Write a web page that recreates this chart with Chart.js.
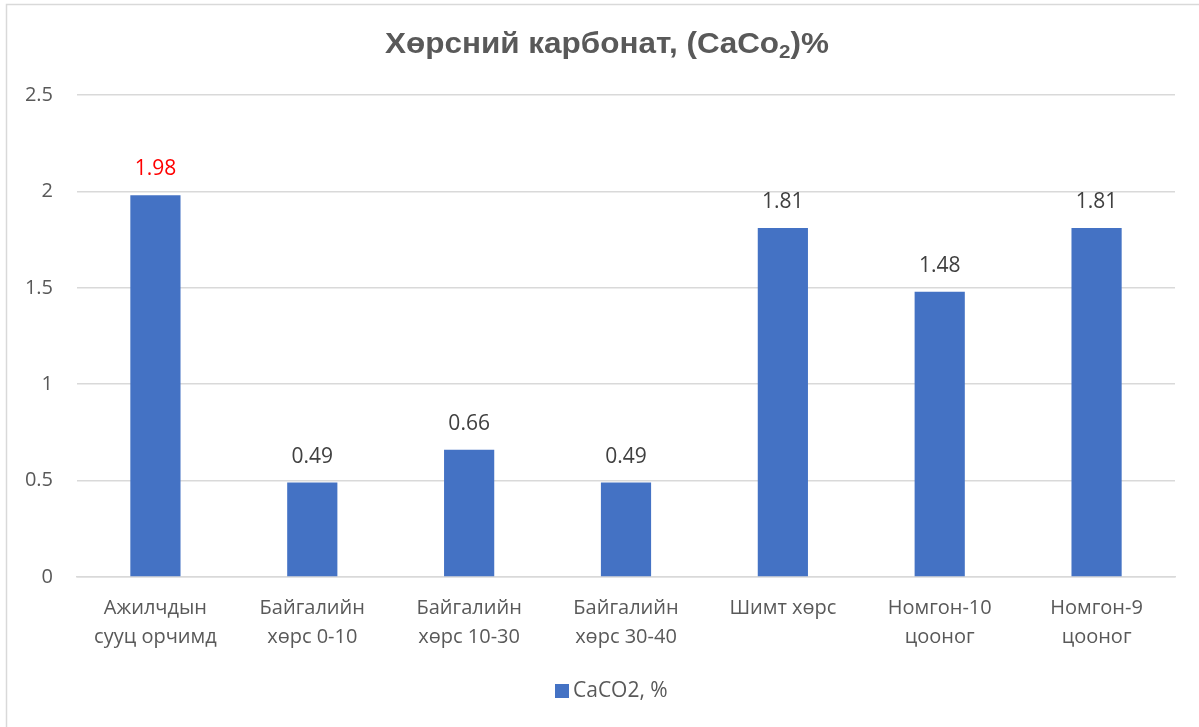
<!DOCTYPE html>
<html>
<head>
<meta charset="utf-8">
<script src="https://cdn.jsdelivr.net/npm/chart.js@4"></script>
<style>
  html, body { margin: 0; padding: 0; background: #fff; }
  #wrap { position: relative; width: 1199px; height: 727px; }
</style>
</head>
<body>
<div id="wrap"><canvas id="grafico"></canvas></div>
<script>
const categories = [
  ["Ажилчдын", "сууц орчимд"],
  ["Байгалийн", "хөрс 0-10"],
  ["Байгалийн", "хөрс 10-30"],
  ["Байгалийн", "хөрс 30-40"],
  "Шимт хөрс",
  ["Номгон-10", "цооног"],
  ["Номгон-9", "цооног"]
];
const caco2Values = [1.98, 0.49, 0.66, 0.49, 1.81, 1.48, 1.81];
const yTicks = [0, 0.5, 1, 1.5, 2, 2.5];
const labelColors = ["#FF0000", "#404040", "#404040", "#404040", "#404040", "#404040", "#404040"];

const textFont = "'Open Sans', 'Noto Sans', sans-serif";
const titleFont = "'Liberation Sans', Arial, sans-serif";

// marco gris del gráfico
const borderPlugin = {
  id: "marco",
  beforeDraw(chart) {
    const ctx = chart.ctx;
    ctx.save();
    ctx.fillStyle = "#fff";
    ctx.fillRect(0, 0, chart.width, chart.height);
    ctx.strokeStyle = "#d9d9d9";
    ctx.lineWidth = 1.5;
    ctx.beginPath();
    ctx.moveTo(6.5, chart.height + 2);
    ctx.lineTo(6.5, 4.5);
    ctx.lineTo(chart.width + 2, 4.5);
    ctx.stroke();
    ctx.restore();
  }
};

// título con subíndice, un poco ensanchado como en el original
const titlePlugin = {
  id: "titulo",
  afterDraw(chart) {
    const ctx = chart.ctx;
    const parts = [
      { t: "Хөрсний карбонат, (CaCo", size: 29, dy: 0 },
      { t: "2", size: 19, dy: 5 },
      { t: ")%", size: 29, dy: 0 }
    ];
    ctx.save();
    ctx.fillStyle = "#595959";
    ctx.textBaseline = "alphabetic";
    ctx.textAlign = "left";
    let total = 0;
    parts.forEach(p => {
      ctx.font = "bold " + p.size + "px " + titleFont;
      p.w = ctx.measureText(p.t).width;
      total += p.w;
    });
    const sx = 444 / total;
    ctx.translate(385, 53);
    ctx.scale(sx, 1);
    let x = 0;
    parts.forEach(p => {
      ctx.font = "bold " + p.size + "px " + titleFont;
      ctx.fillText(p.t, x, p.dy);
      x += p.w;
    });
    ctx.restore();
  }
};

// leyenda abajo
const legendPlugin = {
  id: "leyenda",
  afterDraw(chart) {
    const ctx = chart.ctx;
    const ds = chart.data.datasets[0];
    ctx.save();
    ctx.fillStyle = ds.backgroundColor;
    ctx.fillRect(555, 684, 14, 14);
    ctx.fillStyle = "#595959";
    ctx.font = "21px " + textFont;
    ctx.textBaseline = "middle";
    ctx.fillText(ds.label, 573, 691);
    ctx.restore();
  }
};

// etiquetas de valores encima de las barras
const valueLabels = {
  id: "etiquetas",
  afterDatasetsDraw(chart) {
    const ctx = chart.ctx;
    const meta = chart.getDatasetMeta(0);
    ctx.save();
    ctx.font = "21px " + textFont;
    ctx.textAlign = "center";
    ctx.textBaseline = "middle";
    meta.data.forEach((bar, i) => {
      ctx.fillStyle = labelColors[i];
      ctx.fillText(String(caco2Values[i]), bar.x, bar.y - 26);
    });
    ctx.restore();
  }
};

new Chart(document.getElementById("grafico"), {
  type: "bar",
  data: {
    labels: categories,
    datasets: [{
      label: "CaCO2, %",
      data: caco2Values,
      backgroundColor: "#4472C4",
      borderWidth: 0,
      categoryPercentage: 1,
      barPercentage: 0.32
    }]
  },
  options: {
    responsive: true,
    maintainAspectRatio: false,
    animation: false,
    layout: { padding: { left: 0, right: 24, top: 95, bottom: 55 } },
    plugins: {
      title: { display: false },
      legend: { display: false },
      tooltip: { enabled: false }
    },
    scales: {
      x: {
        grid: { display: false, drawTicks: false },
        border: { color: "#d9d9d9", width: 1.5 },
        afterFit(scale) { scale.height = 95; },
        ticks: {
          color: "#595959",
          font: { family: textFont, size: 20, lineHeight: 1.45 },
          maxRotation: 0,
          padding: 17
        }
      },
      y: {
        min: 0,
        max: 2.5,
        afterBuildTicks(scale) {
          scale.ticks = yTicks.map(v => ({ value: v }));
        },
        afterFit(scale) { scale.width = 77; },
        grid: { color: "#d9d9d9", lineWidth: 1.5, drawTicks: false },
        border: { display: false },
        ticks: {
          color: "#595959",
          font: { family: textFont, size: 20 },
          padding: 24,
          callback: v => String(v)
        }
      }
    }
  },
  plugins: [borderPlugin, titlePlugin, legendPlugin, valueLabels]
});
</script>
</body>
</html>
